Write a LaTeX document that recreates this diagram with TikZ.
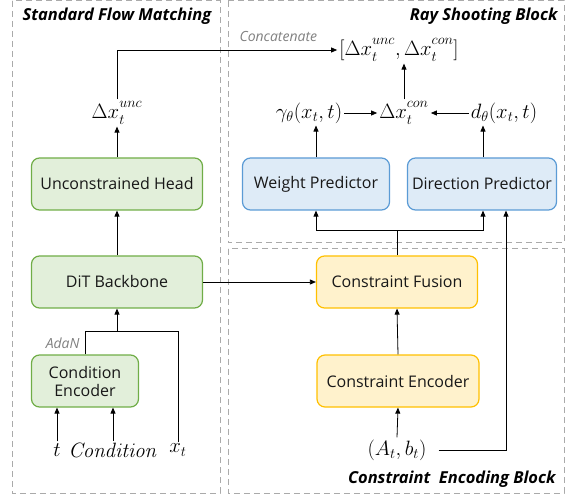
\documentclass[tikz,border=0pt]{standalone}
\usepackage[no-math]{fontspec}
\setmainfont{Open Sans}
\usetikzlibrary{arrows.meta}
\definecolor{flowcolor0000}{RGB}{226,239,218}
\definecolor{flowcolor0001}{RGB}{112,173,71}
\definecolor{flowcolor0002}{RGB}{222,235,247}
\definecolor{flowcolor0003}{RGB}{91,155,213}
\definecolor{flowcolor0004}{RGB}{255,242,204}
\definecolor{flowcolor0005}{RGB}{255,192,0}
\definecolor{flowcolor0006}{RGB}{170,170,170}
\definecolor{flowcolor0007}{RGB}{24,24,24}
\definecolor{flowcolor0008}{RGB}{128,128,128}

\begin{document}
\begin{tikzpicture}[yscale=-1
,fstyle/.style={color=flowcolor0006,line width=1.0pt,dash pattern=on 6pt off 4pt}
,nstyle/.style={rounded corners=8pt,line width=1.2pt,minimum height=52pt,inner sep=2pt,align=center,font=\fontsize{16}{19}\selectfont,text=flowcolor0007}
,gstyle/.style={nstyle,draw=flowcolor0001,fill=flowcolor0000}
,bstyle/.style={nstyle,draw=flowcolor0003,fill=flowcolor0002}
,ystyle/.style={nstyle,draw=flowcolor0005,fill=flowcolor0004}
,mstyle/.style={font=\fontsize{20}{24}\selectfont,inner sep=2pt}
,tstyle/.style={font=\fontsize{16.5}{19}\selectfont\bfseries\itshape,text=black}
,lstyle/.style={font=\fontsize{14}{16}\selectfont\itshape,text=flowcolor0008}
,astyle/.style={color=black,line width=0.8pt,-{Triangle[length=6pt,width=5pt]}}
,pstyle/.style={color=black,line width=0.8pt}
]
\useasboundingbox (0pt,0pt) rectangle (568pt,497pt);
% dashed frames
\draw[fstyle] (12pt,1pt) rectangle (220pt,493pt);
\draw[fstyle] (228pt,1pt) rectangle (564pt,243pt);
\draw[fstyle] (228pt,249pt) rectangle (564pt,493pt);
\node at (19pt,16pt)[tstyle,anchor=west] (sfmtitle) {Standard Flow Matching};
\node at (561pt,16pt)[tstyle,anchor=east] (rsbtitle) {Ray Shooting Block};
\node at (559pt,479pt)[tstyle,anchor=east] (cebtitle) {Constraint\ \ Encoding Block};
% blocks
\node at (117pt,184pt)[gstyle,minimum width=171pt] (uhead) {Unconstrained Head};
\node at (117pt,282pt)[gstyle,minimum width=171pt] (dit) {DiT Backbone};
\node at (85pt,381pt)[gstyle,minimum width=107pt] (cenc) {Condition\\[-1pt]Encoder};
\node at (316pt,184pt)[bstyle,minimum width=147pt] (wpred) {Weight Predictor};
\node at (482pt,184pt)[bstyle,minimum width=149pt] (dpred) {Direction Predictor};
\node at (397pt,282pt)[ystyle,minimum width=161pt] (fusion) {Constraint Fusion};
\node at (398pt,381pt)[ystyle,minimum width=162pt] (kenc) {Constraint Encoder};
% variables
\node at (57pt,450pt)[mstyle] (tin) {$t$};
\node at (113pt,450pt)[mstyle] (condin) {$\mathit{Condition}$};
\node at (178pt,450pt)[mstyle] (xin) {$x_t$};
\node at (397pt,450pt)[mstyle] (abin) {$(A_t,b_t)$};
\node at (117pt,113pt)[mstyle] (dunc) {$\Delta x^{\raisebox{3pt}{$\scriptstyle unc$}}_{\raisebox{-1pt}{$\scriptstyle t$}}$};
\node at (309pt,113pt)[mstyle] (gam) {$\gamma_\theta(x_t,t)$};
\node at (404pt,113pt)[mstyle] (dcon) {$\Delta x^{\raisebox{3pt}{$\scriptstyle con$}}_{\raisebox{-1pt}{$\scriptstyle t$}}$};
\node at (504pt,113pt)[mstyle] (dth) {$d_\theta(x_t,t)$};
\node at (399pt,50pt)[mstyle] (cat) {$[\Delta x^{\raisebox{3pt}{$\scriptstyle unc$}}_{\raisebox{-1pt}{$\scriptstyle t$}},\Delta x^{\raisebox{3pt}{$\scriptstyle con$}}_{\raisebox{-1pt}{$\scriptstyle t$}}]$};
\node at (83pt,343pt)[lstyle,anchor=east] (adan) {AdaN};
\node at (236pt,37pt)[lstyle,anchor=west] (catlabel) {Concatenate};
\coordinate (join) at (117pt,331pt);
\coordinate (split) at (397pt,230pt);
% connectors
\draw[astyle] (tin.north) -- (tin.north |- cenc.south);
\draw[astyle] (condin.north) -- (condin.north |- cenc.south);
\draw[pstyle] (cenc.north) |- (join);
\draw[pstyle] (xin.north) |- (join);
\draw[astyle] (join) -- (dit.south);
\draw[astyle] (dit.north) -- (uhead.south);
\draw[astyle] (uhead.north) -- (dunc.south);
\draw[astyle] (dunc.north) |- (cat.west);
\draw[astyle] (dit.east) -- (fusion.west);
\draw[astyle] (abin.north) -- (kenc.south);
\draw[astyle] (kenc.north) -- (fusion.south);
\draw[pstyle] (fusion.north) -- (split);
\draw[astyle] (split) -| (wpred.south);
\draw[astyle] (split) -| ([xshift=1pt]dpred.south);
\draw[astyle] ([xshift=10pt]abin.east) -| ([xshift=24pt]dpred.south);
\draw[astyle] (wpred.north) -- (wpred.north |- gam.south);
\draw[astyle] ([xshift=1pt]dpred.north) -- ([xshift=1pt]dpred.north |- dth.south);
\draw[astyle] (gam.east) -- (dcon.west);
\draw[astyle] (dth.west) -- (dcon.east);
\draw[astyle] (dcon.north) -- (dcon.north |- cat.south);
\end{tikzpicture}
\end{document}
